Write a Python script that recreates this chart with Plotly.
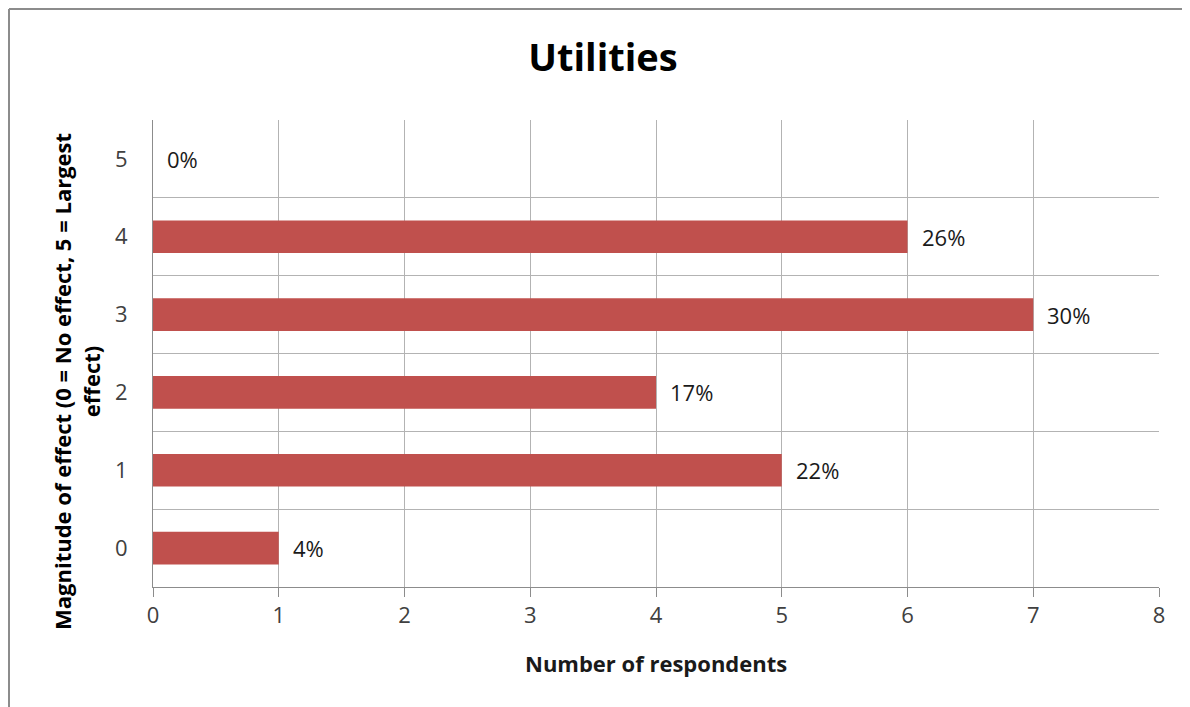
import plotly.graph_objects as go

categories = ["0", "1", "2", "3", "4", "5"]
respondents = [1, 5, 4, 7, 6, 0]
pct_labels = ["4%", "22%", "17%", "30%", "26%", "0%"]
x_ticks = [0, 1, 2, 3, 4, 5, 6, 7, 8]

# page has an 8px body margin, so figure pixels = page pixels - 8
OFF = 8
W, H = 1190 - OFF, 707 - OFF
L, R, T, B = 153 - OFF, 31, 120 - OFF, 120
FONT = "Open Sans"
bar_color = "#C0504D"
grid_color = "#B3B3B3"
text_color = "#404040"

fig = go.Figure()
fig.add_trace(go.Bar(
    x=respondents, y=categories, orientation="h",
    marker=dict(color=bar_color, line=dict(width=0)),
    width=0.42, showlegend=False, hoverinfo="x+y",
))

pw = W - L - R
ph = H - T - B
def px_x(p):
    return (p - OFF - L) / pw
def px_y(p):
    return (H - B - (p - OFF)) / ph

annotations = []
for v, c, t in zip(respondents, categories, pct_labels):
    annotations.append(dict(
        x=v, y=c, xref="x", yref="y", text=t, showarrow=False,
        xanchor="left", yanchor="middle", xshift=12,
        font=dict(family=FONT, size=22, color="#1a1a1a"),
    ))
annotations.append(dict(
    x=px_x(76), y=px_y(382), xref="paper", yref="paper",
    text="Magnitude of effect (0 = No effect, 5 = Largest<br>effect)",
    textangle=-90, showarrow=False, xanchor="center", yanchor="middle",
    align="center",
    font=dict(family=FONT, size=22, color="#000000", weight="bold"),
))
annotations.append(dict(
    x=px_x(656), y=px_y(663), xref="paper", yref="paper",
    text="Number of respondents", showarrow=False,
    xanchor="center", yanchor="middle",
    font=dict(family=FONT, size=22, color="#1a1a1a", weight="bold"),
))

shape_line = dict(color="#8C8C8C", width=2)
shapes = [
    dict(type="line", xref="paper", yref="paper",
         x0=px_x(9), x1=px_x(1200), y0=px_y(9), y1=px_y(9), line=shape_line),
    dict(type="line", xref="paper", yref="paper",
         x0=px_x(9), x1=px_x(9), y0=px_y(9), y1=px_y(720), line=shape_line),
]

fig.update_layout(
    width=W, height=H,
    margin=dict(l=L, r=R, t=T, b=B),
    paper_bgcolor="white", plot_bgcolor="white",
    title=dict(text="<b>Utilities</b>", x=(603 - OFF) / W, xanchor="center",
               y=1 - (58 - OFF) / H, yanchor="middle",
               font=dict(family=FONT, size=38, color="#000000")),
    xaxis=dict(
        range=[0, 8], tickvals=x_ticks, ticktext=[str(t) for t in x_ticks],
        showgrid=True, gridcolor=grid_color, gridwidth=1,
        showline=True, linecolor="#8C8C8C", linewidth=1,
        ticks="outside", ticklen=9, tickcolor="#8C8C8C",
        tickfont=dict(family=FONT, size=22, color=text_color),
        zeroline=False, fixedrange=True,
    ),
    yaxis=dict(
        type="category", categoryorder="array", categoryarray=categories,
        tickson="boundaries", showgrid=True, gridcolor=grid_color, gridwidth=1,
        showline=True, linecolor="#8C8C8C", linewidth=1,
        ticks="", ticklabelstandoff=20,
        tickfont=dict(family=FONT, size=22, color=text_color),
        zeroline=False, fixedrange=True,
    ),
    annotations=annotations,
    shapes=shapes,
    bargap=0.58,
)

fig.write_html("out.html")
